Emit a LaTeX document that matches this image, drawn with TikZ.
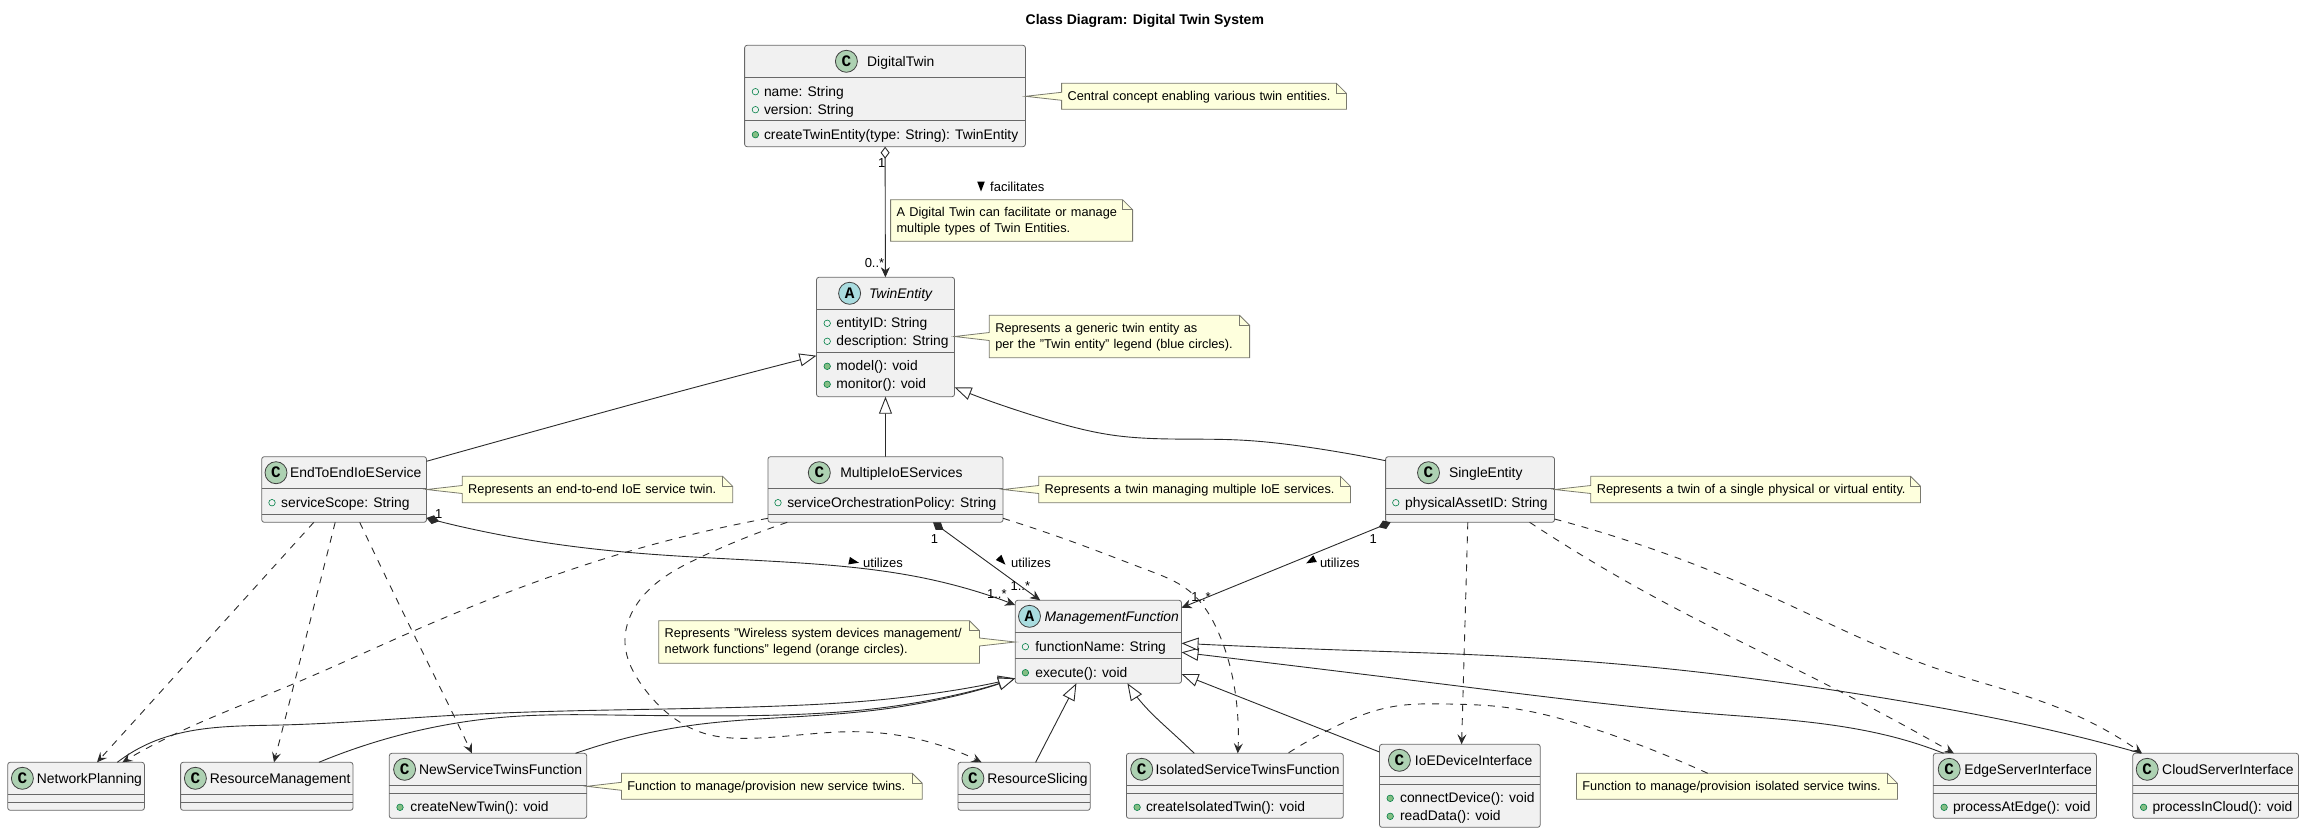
\documentclass[tikz,border=0pt]{standalone}
\usepackage{fontspec}
\setmainfont{Liberation Sans}
\newfontfamily\spotfont{Liberation Mono}
\usepackage{tikz}
\usetikzlibrary{hobby,arrows.meta}
\definecolor{boxfill}{HTML}{F1F1F1}
\definecolor{boxline}{HTML}{686868}
\definecolor{notefill}{HTML}{FEFFDD}
\definecolor{noteline}{HTML}{7A7A6E}
\definecolor{linkgray}{HTML}{2A2A2A}
\definecolor{classspot}{HTML}{ADD1B2}
\definecolor{abstractspot}{HTML}{A9DCDF}
\definecolor{dotgreen}{HTML}{038048}
\definecolor{dotfill}{HTML}{84BE84}
\tikzset{
  classbox/.style={draw=boxline,fill=boxfill,line width=0.8pt,rounded corners=2.5pt,inner sep=0pt,outer sep=0pt},
  classline/.style={draw=boxline,line width=0.8pt},
  spot/.style={circle,draw=black!75,line width=0.8pt,minimum size=22pt,inner sep=0pt,font=\spotfont\bfseries\fontsize{16}{16}\selectfont},
  classname/.style={anchor=base west,inner sep=0pt,font=\fontsize{13.9}{16}\selectfont},
  membertext/.style={anchor=base west,inner sep=0pt,font=\fontsize{13.85}{16}\selectfont},
  opendot/.style={circle,draw=dotgreen,line width=0.6pt,minimum size=6.5pt,inner sep=0pt},
  fulldot/.style={opendot,fill=dotfill},
  notebody/.style={anchor=north west,inner xsep=6pt,inner ysep=0pt,outer sep=0pt,align=left,font=\fontsize{12.75}{16}\selectfont},
  noteedge/.style={draw=noteline,fill=notefill,line width=0.8pt},
  multlabel/.style={inner sep=0pt,font=\fontsize{13}{15}\selectfont},
  linklabel/.style={anchor=base west,inner sep=0pt,font=\fontsize{13}{15}\selectfont},
  labelmark/.style={fill=black},
  link/.style={draw=linkgray,line width=0.9pt},
  deplink/.style={link,dash pattern=on 7pt off 7pt,-{Stealth[length=10pt,width=9pt,inset=4pt]}},
  islink/.style={link,-{Triangle[length=17pt,width=13pt,fill=white]}},
  haslink/.style={link,{Diamond[length=12pt,width=9pt,fill=white]}-{Stealth[length=10pt,width=9pt,inset=3pt]}},
  ownlink/.style={link,{Diamond[length=13pt,width=9pt]}-{Stealth[length=10pt,width=9pt,inset=3pt]}},
}
% box, with the rules of its compartments
\newcommand{\umlclass}[7]{%
  \node[classbox,anchor=north west,minimum width=#4,minimum height=#5] (#1) at (#2,#3) {};
  \draw[classline] ([yshift=-#6]#1.north west) -- ([yshift=-#6]#1.north east);
  \draw[classline] ([yshift=-#7]#1.north west) -- ([yshift=-#7]#1.north east);
}
\newcommand{\umlhead}[7]{%
  \node[spot,fill=#2] (#1Spot) at (#4,#6) {#3};
  \node[classname] (#1Name) at (#5,#6+5) {#7};
}
\newcommand{\member}[6]{%
  \node[#2] (#1Dot) at (#3,#5-4.5) {};
  \node[membertext] (#1) at (#4,#5) {#6};
}
% note outlines, with the folded corner
\newcommand{\notefold}[1]{%
  \draw[noteline,line width=0.8pt] ([xshift=-10]#1.north east) -- ([xshift=-10,yshift=-10]#1.north east) -- ([yshift=-10]#1.north east);
}
\newcommand{\noteleft}[2]{%
  \path[noteedge] (#1.north west) -- ([yshift=4]#1.west) -- (#1.west -| #2.east) -- ([yshift=-4]#1.west) -- (#1.south west) -- (#1.south east) -- ([yshift=-10]#1.north east) -- ([xshift=-10]#1.north east) -- cycle;
  \notefold{#1}
}
\newcommand{\noteright}[2]{%
  \path[noteedge] (#1.north west) -- (#1.south west) -- (#1.south east) -- ([yshift=-4]#1.east) -- (#1.east -| #2.west) -- ([yshift=4]#1.east) -- ([yshift=-10]#1.north east) -- ([xshift=-10]#1.north east) -- cycle;
  \notefold{#1}
}
\newcommand{\noteplain}[1]{%
  \path[noteedge] (#1.north west) -- (#1.south west) -- (#1.south east) -- ([yshift=-10]#1.north east) -- ([xshift=-10]#1.north east) -- cycle;
  \notefold{#1}
}
% name, left, top, width, height, outline, text
\newcommand{\umlnote}[7]{%
  \node[notebody,text width=#4pt-12pt,minimum height=#5] (#1) at (#2,#3) {};
  #6
  \node[notebody,text width=#4pt-12pt,minimum height=#5] (#1Text) at (#2,#3+0.5) {#7};
}
\newcommand{\umlmark}[3]{%
  \fill[labelmark,shift={(#1,#2)},rotate=#3] (-5,-3.8) -- (5,0) -- (-5,3.8) -- cycle;
}
\begin{document}
\begin{tikzpicture}[x=1pt,y=-1pt]
    \useasboundingbox (0,0) rectangle (2304,833);
    \node[inner sep=0pt,font=\bfseries\fontsize{14}{16}\selectfont] (Title) at (1144.8,20.5) {Class Diagram: Digital Twin System};

    % classes
    \umlclass{DigitalTwin}{744.6}{45.3}{280.8}{101.4}{32}{75}
    \umlhead{DigitalTwin}{classspot}{C}{846.4}{867}{61.3}{DigitalTwin}
    \member{dtName}{opendot}{755.4}{763.8}{96.2}{name: String}
    \member{dtVersion}{opendot}{755.4}{763.8}{114.2}{version: String}
    \member{dtCreate}{fulldot}{755.4}{763.8}{139.2}{createTwinEntity(type: String): TwinEntity}

    \umlclass{TwinEntity}{816.5}{277.3}{138}{119.4}{32}{75}
    \umlhead{TwinEntity}{abstractspot}{A}{849.6}{868.8}{293.3}{\textit{TwinEntity}}
    \member{teId}{opendot}{827.2}{836.2}{327.8}{entityID: String}
    \member{teDesc}{opendot}{827.2}{836.2}{345.8}{description: String}
    \member{teModel}{fulldot}{827.2}{836.2}{370.8}{model(): void}
    \member{teMonitor}{fulldot}{827.2}{836.2}{388.8}{monitor(): void}

    \umlclass{EndToEndIoEService}{261.7}{456.7}{164.8}{65.6}{32}{57.6}
    \umlhead{EndToEndIoEService}{classspot}{C}{276}{289.8}{472.7}{EndToEndIoEService}
    \member{eeScope}{opendot}{272}{281}{507.2}{serviceScope: String}

    \umlclass{MultipleIoEServices}{767.9}{456.7}{235.1}{65.6}{32}{57.6}
    \umlhead{MultipleIoEServices}{classspot}{C}{819.3}{840.2}{472.7}{MultipleIoEServices}
    \member{miPolicy}{opendot}{778}{787.1}{507.2}{serviceOrchestrationPolicy: String}

    \umlclass{SingleEntity}{1385.6}{456.7}{168.9}{65.6}{32}{57.6}
    \umlhead{SingleEntity}{classspot}{C}{1428.5}{1448.9}{472.7}{SingleEntity}
    \member{seAsset}{opendot}{1395.8}{1405}{507.2}{physicalAssetID: String}

    \umlclass{ManagementFunction}{1015.2}{600.3}{166.3}{83}{32}{58}
    \umlhead{ManagementFunction}{abstractspot}{A}{1029.5}{1044.3}{616.3}{\textit{ManagementFunction}}
    \member{mfName}{opendot}{1025.4}{1035.1}{651.2}{functionName: String}
    \member{mfExec}{fulldot}{1025.4}{1035.1}{677.2}{execute(): void}

    \umlclass{NetworkPlanning}{7.7}{762.3}{136.7}{48}{32}{40}
    \umlhead{NetworkPlanning}{classspot}{C}{22.4}{36.7}{778.3}{NetworkPlanning}

    \umlclass{ResourceManagement}{180.6}{762.3}{172.4}{48}{32}{40}
    \umlhead{ResourceManagement}{classspot}{C}{195.4}{209.7}{778.3}{ResourceManagement}

    \umlclass{NewServiceTwinsFunction}{389.3}{753.3}{197.4}{65}{32}{40}
    \umlhead{NewServiceTwinsFunction}{classspot}{C}{404.6}{418.9}{769.3}{NewServiceTwinsFunction}
    \member{nsCreate}{fulldot}{400}{410.2}{811.8}{createNewTwin(): void}

    \umlclass{ResourceSlicing}{958}{762.3}{132.2}{48}{32}{40}
    \umlhead{ResourceSlicing}{classspot}{C}{972.9}{987.1}{778.3}{ResourceSlicing}

    \umlclass{IsolatedServiceTwinsFunction}{1126.4}{753.3}{216.9}{65}{32}{40}
    \umlhead{IsolatedServiceTwinsFunction}{classspot}{C}{1141.7}{1155.5}{769.3}{IsolatedServiceTwinsFunction}
    \member{isCreate}{fulldot}{1137.1}{1145.8}{811.8}{createIsolatedTwin(): void}

    \umlclass{IoEDeviceInterface}{1379.5}{744.3}{160.7}{83}{32}{40}
    \umlhead{IoEDeviceInterface}{classspot}{C}{1399.4}{1414.7}{760.3}{IoEDeviceInterface}
    \member{ioConnect}{fulldot}{1390.2}{1399.9}{802.8}{connectDevice(): void}
    \member{ioRead}{fulldot}{1390.2}{1399.9}{820.8}{readData(): void}

    \umlclass{EdgeServerInterface}{1933.3}{753.3}{163.1}{65}{32}{40}
    \umlhead{EdgeServerInterface}{classspot}{C}{1949.2}{1964.1}{769.3}{EdgeServerInterface}
    \member{edProcess}{fulldot}{1944.1}{1952.8}{811.8}{processAtEdge(): void}

    \umlclass{CloudServerInterface}{2132.8}{753.3}{165.7}{65}{32}{40}
    \umlhead{CloudServerInterface}{classspot}{C}{2147.2}{2162}{769.3}{CloudServerInterface}
    \member{clProcess}{fulldot}{2143.6}{2152.3}{811.8}{processInCloud(): void}

    % notes
    \umlnote{dtNote}{1061.6}{83.3}{284.8}{26}{\noteleft{dtNote}{DigitalTwin}}{Central concept enabling various twin entities.}
    \umlnote{linkNote}{890.6}{199.7}{242}{41.6}{\noteplain{linkNote}}{A Digital Twin can facilitate or manage\\multiple types of Twin Entities.}
    \umlnote{teNote}{989.3}{315.3}{260.3}{42.4}{\noteleft{teNote}{TwinEntity}}{Represents a generic twin entity as\\per the "Twin entity" legend (blue circles).}
    \umlnote{eeNote}{462.2}{476.3}{270.5}{26.4}{\noteleft{eeNote}{EndToEndIoEService}}{Represents an end-to-end IoE service twin.}
    \umlnote{miNote}{1038.7}{476.3}{311.7}{26.4}{\noteleft{miNote}{MultipleIoEServices}}{Represents a twin managing multiple IoE services.}
    \umlnote{seNote}{1590.8}{476.3}{329.7}{26.4}{\noteleft{seNote}{SingleEntity}}{Represents a twin of a single physical or virtual entity.}
    \umlnote{mfNote}{658.7}{620.7}{320.8}{42.6}{\noteright{mfNote}{ManagementFunction}}{Represents "Wireless system devices management/\\network functions" legend (orange circles).}
    \umlnote{nsNote}{621.4}{773.3}{300.9}{26}{\noteleft{nsNote}{NewServiceTwinsFunction}}{Function to manage/provision new service twins.}
    \umlnote{isNote}{1576.4}{773.3}{321}{26}{\noteplain{isNote}}{Function to manage/provision isolated service twins.}

    % inheritance
    \draw[islink,use Hobby shortcut] ([yshift=-4.6]EndToEndIoEService.north east) .. (571.4,421) .. (700,386) .. ([yshift=-78.4]TwinEntity.north west);
    \draw[islink] (MultipleIoEServices) -- (TwinEntity);
    \draw[islink,use Hobby shortcut] ([yshift=-4]SingleEntity.north west) .. (1315.7,448.3) .. (1239,440) .. (1111.6,435) .. (1048,420) .. ([yshift=-110]TwinEntity.north east);
    \draw[islink,use Hobby shortcut] ([xshift=109.6]NetworkPlanning.north west) .. (153,741.7) .. (280.6,725) .. (459,715) .. (780,706) .. (888,699) .. ([yshift=-78]ManagementFunction.north west);
    \draw[islink,use Hobby shortcut] ([xshift=138.3]ResourceManagement.north west) .. (408,733) .. (510,716.7) .. (612,715) .. (780,715) .. (888,707) .. ([yshift=-78]ManagementFunction.north west);
    \draw[islink,use Hobby shortcut] ([xshift=186.2]NewServiceTwinsFunction.north west) .. (693.9,725) .. (800,716.5) .. (888,708.5) .. ([yshift=-78]ManagementFunction.north west);
    \draw[islink] ([xshift=77.6]ResourceSlicing.north west) -- ([xshift=61.2]ManagementFunction.south west);
    \draw[islink,use Hobby shortcut] ([xshift=67.9]IsolatedServiceTwinsFunction.north west) .. (1172.9,733.3) .. (1142.2,703.3) .. ([xshift=112.2]ManagementFunction.south west);
    \draw[islink] ([yshift=-7.7]IoEDeviceInterface.north west) -- ([yshift=-73.7]ManagementFunction.north east);
    \draw[islink,use Hobby shortcut] ([xshift=10.3]EdgeServerInterface.north west) .. (1910.3,741.7) .. (1705,713.3) .. (1463.7,686.7) .. ([yshift=-52]ManagementFunction.north east);
    \draw[islink,use Hobby shortcut] ([xshift=8.2]CloudServerInterface.north west) .. (2064.1,733.3) .. (1961.5,711.7) .. (1843.6,691.7) .. (1679.5,670) .. (1500,656) .. (1341.2,650) .. ([yshift=-43]ManagementFunction.north east);

    % aggregation and composition
    \draw[haslink] (DigitalTwin) -- (TwinEntity);
    \draw[ownlink,use Hobby shortcut] ([yshift=-61.3]EndToEndIoEService.north east) .. (510.2,536.7) .. (627.6,552.3) .. (780,561.7) .. (933,580) .. ([yshift=-4.7]ManagementFunction.north west);
    \draw[ownlink] ([xshift=-70]MultipleIoEServices.south east) -- ([xshift=25]ManagementFunction.north west);
    \draw[ownlink] ([xshift=5]SingleEntity.south west) -- ([yshift=-7.4]ManagementFunction.north east);

    % dependencies
    \draw[deplink] ([xshift=52.1]EndToEndIoEService.south west) -- ([xshift=89.3]NetworkPlanning.north west);
    \draw[deplink,use Hobby shortcut] ([xshift=73.5]EndToEndIoEService.south west) .. (293.4,686.7) .. ([xshift=93.4]ResourceManagement.north west);
    \draw[deplink,use Hobby shortcut] ([xshift=98]EndToEndIoEService.south west) .. (413.3,633.3) .. (459.2,726.7) .. ([xshift=82.6]NewServiceTwinsFunction.north west);
    \draw[deplink,use Hobby shortcut] ([yshift=-61.6]MultipleIoEServices.north west) .. (627.6,551.7) .. (415.8,630) .. (290.8,685) .. (153,745) .. ([xshift=114.7]NetworkPlanning.north west);
    \draw[deplink,use Hobby shortcut] ([xshift=19.3]MultipleIoEServices.south west) .. (701.5,556.7) .. (643.9,595) .. (625,643.3) .. (642.9,686.7) .. (704,733.3) .. (750,738.3) .. (856.5,731.7) .. (928,741.7) .. ([xshift=23.5]ResourceSlicing.north west);
    \draw[deplink,use Hobby shortcut] ([yshift=-61.6]MultipleIoEServices.north east) .. (1086,546.7) .. (1147.3,570) .. (1188,590) .. (1218.8,633.3) .. (1236.6,703.3) .. ([xshift=111.3]IsolatedServiceTwinsFunction.north west);
    \draw[deplink] ([xshift=82.2]SingleEntity.south west) -- ([xshift=82.1]IoEDeviceInterface.north west);
    \draw[deplink,use Hobby shortcut] ([xshift=144]SingleEntity.south west) .. (1653.8,596.7) .. (1843.6,693.3) .. ([xshift=20.5]EdgeServerInterface.north west);
    \draw[deplink,use Hobby shortcut] ([yshift=-62.3]SingleEntity.north east) .. (1756.4,590) .. (1935.9,668.3) .. (2064,710) .. ([xshift=9.2]CloudServerInterface.north west);
    % note on the isolated twins class
    \draw[link,dash pattern=on 7pt off 7pt,use Hobby shortcut] ([xshift=131.3]isNote.north west) .. (1602.6,731.7) .. (1500,706.7) .. (1448.4,704) .. (1392.2,706.7) .. (1328.5,730) .. ([xshift=161.3]IsolatedServiceTwinsFunction.north west);

    % labels on the links
    \node[multlabel] (dtOne) at (881.7,163.3) {1};
    \node[multlabel] (teMany) at (874.5,262.7) {0..*};
    \node[multlabel] (eeOne) at (438.8,514) {1};
    \node[multlabel] (eeMany) at (996.8,594) {1..*};
    \node[multlabel] (miOne) at (934.6,539.3) {1};
    \node[multlabel] (miMany) at (1020.3,585.7) {1..*};
    \node[multlabel] (seOne) at (1373.3,538.7) {1};
    \node[multlabel] (seMany) at (1201,596.7) {1..*};
    \umlmark{981}{186.5}{-90}
    \node[linklabel] (facilitatesLabel) at (990,191) {facilitates};
    \umlmark{854}{561.7}{-12}
    \node[linklabel] (eeUses) at (863,567) {utilizes};
    \umlmark{1002}{561}{-47}
    \node[linklabel] (miUses) at (1011,567) {utilizes};
    \umlmark{1310.6}{561}{208}
    \node[linklabel] (seUses) at (1319.8,567) {utilizes};
\end{tikzpicture}
\end{document}
